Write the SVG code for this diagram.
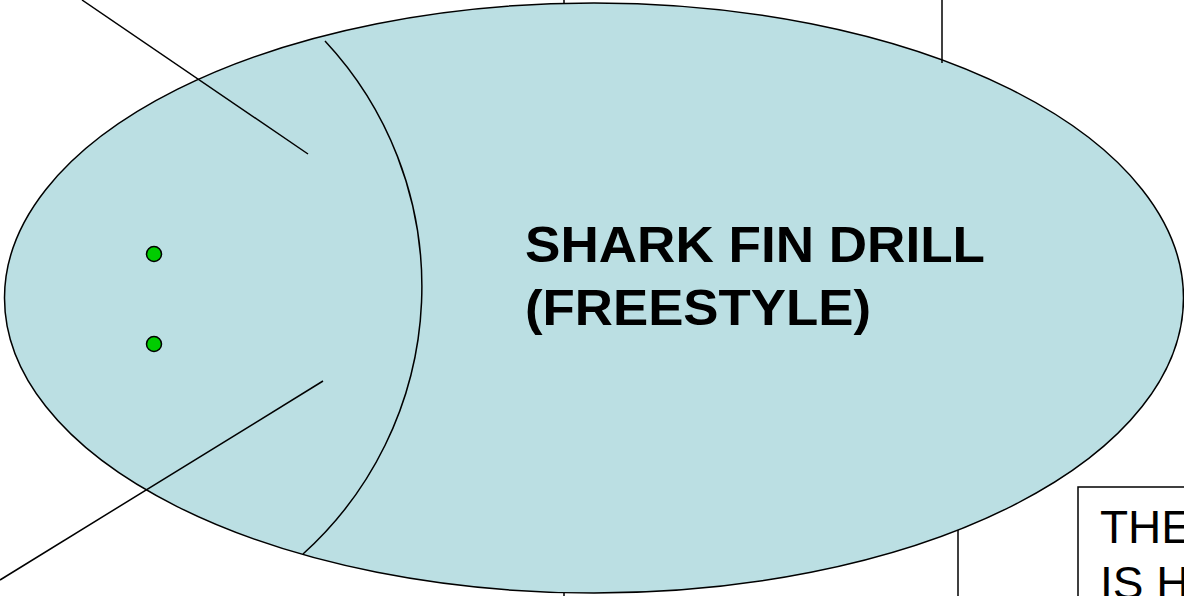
<svg xmlns="http://www.w3.org/2000/svg" width="1184" height="596" viewBox="0 0 1184 596">
<style>
.ln{stroke:#000;stroke-width:1.5;fill:none}
.dot{fill:#00cc00;stroke:#000;stroke-width:1.5}
.title{font-family:"Liberation Sans",Arial,sans-serif;font-weight:bold;font-size:50px;fill:#000}
.box{font-family:"Liberation Sans",Arial,sans-serif;font-size:46px;fill:#000}
</style>
<g id="shark">
<ellipse cx="594" cy="298" rx="589.5" ry="295" fill="#bbdfe3" stroke="#000" stroke-width="1.5"/>
<path class="ln" d="M325,41 A360 360 0 0 1 303,554"/>
<circle class="dot" cx="154" cy="254" r="7.5"/>
<circle class="dot" cx="154" cy="344" r="7.5"/>
<text class="title" x="525" y="262" textLength="460" lengthAdjust="spacingAndGlyphs">SHARK FIN DRILL</text>
<text class="title" x="525" y="325" textLength="346" lengthAdjust="spacingAndGlyphs">(FREESTYLE)</text>
</g>
<g id="connectors">
<line class="ln" x1="82" y1="0" x2="308" y2="154"/>
<line class="ln" x1="0" y1="580" x2="323" y2="381"/>
<line class="ln" x1="942" y1="0" x2="942" y2="63"/>
<line class="ln" x1="564" y1="0" x2="564" y2="4"/>
<line class="ln" x1="564" y1="593" x2="564" y2="596"/>
<line class="ln" x1="958" y1="530" x2="958" y2="596"/>
</g>
<g id="note">
<rect x="1078" y="487" width="120" height="130" fill="#fff" stroke="#000" stroke-width="1.5"/>
<text class="box" x="1100" y="543">THE</text>
<text class="box" x="1100" y="599">IS H</text>
</g>
</svg>
